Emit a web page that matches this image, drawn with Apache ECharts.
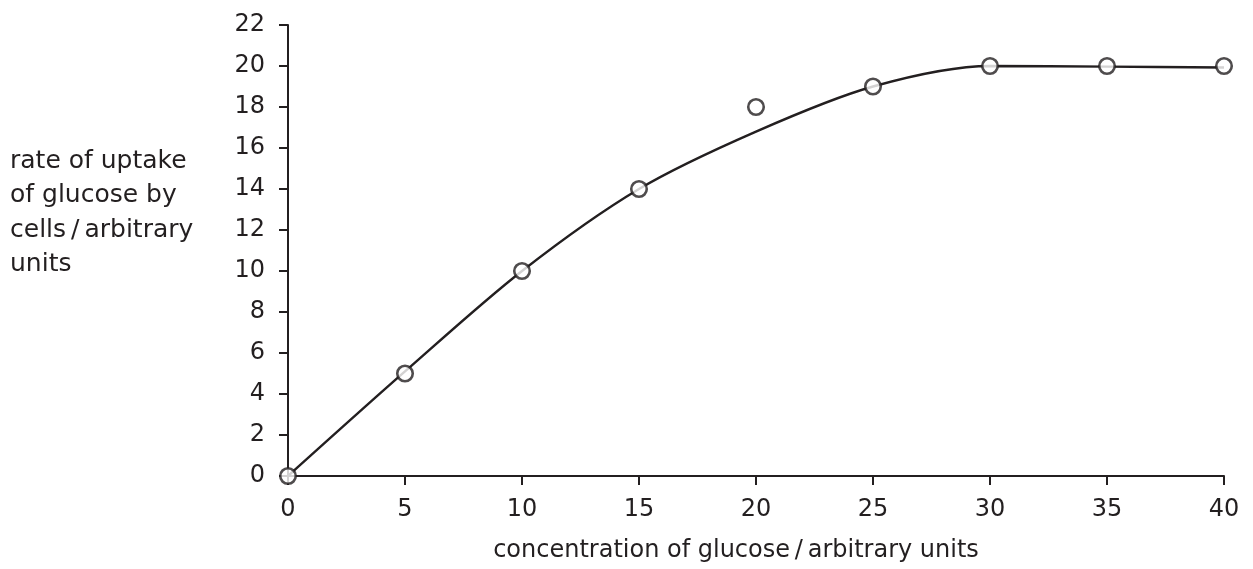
<!DOCTYPE html>
<html>
<head>
<meta charset="utf-8">
<script src="https://cdn.jsdelivr.net/npm/echarts@6/dist/echarts.min.js"></script>
<style>
html,body{margin:0;padding:0;background:#fff;}
#c{width:1253px;height:569px;}
</style>
</head>
<body>
<div id="c"></div>
<script>
const concentration = [0, 5, 10, 15, 20, 25, 30, 35, 40];
const uptake = [0, 5, 10, 14, 18, 19, 20, 20, 20];
// best-fit curve drawn through the data
const curveX = [0, 5, 10, 15, 20, 25, 30, 35, 40];
const curveY = [0, 5.1, 10, 14, 16.8, 19, 20, 19.97, 19.93];
const xTicks = [0, 5, 10, 15, 20, 25, 30, 35, 40];
const yTicks = [0, 2, 4, 6, 8, 10, 12, 14, 16, 18, 20, 22];
const xTitle = 'concentration of glucose\u2009/\u2009arbitrary units';
const yTitle = 'rate of uptake\nof glucose by\ncells\u2009/\u2009arbitrary\nunits';

const ink = '#231f20';
const font = 'DejaVu Sans, sans-serif';
const fs = 24;
const chart = echarts.init(document.getElementById('c'));
chart.setOption({
  animation: false,
  backgroundColor: '#fff',
  grid: {left: 288, right: 29, top: 25, bottom: 93},
  xAxis: {
    type: 'value', min: 0, max: 40, interval: 5,
    axisLine: {show: true, lineStyle: {color: ink, width: 2}},
    axisTick: {show: true, length: 9, lineStyle: {color: ink, width: 2}},
    axisLabel: {color: ink, fontSize: fs, fontFamily: font, margin: 22},
    splitLine: {show: false},
    name: xTitle, nameLocation: 'middle', nameGap: 63,
    nameTextStyle: {color: ink, fontSize: fs, fontFamily: font, padding: [0, 40, 0, 0]}
  },
  yAxis: {
    type: 'value', min: 0, max: 22, interval: 2,
    axisLine: {show: true, lineStyle: {color: ink, width: 2}},
    axisTick: {show: true, length: 9, lineStyle: {color: ink, width: 2}},
    axisLabel: {color: ink, fontSize: fs, fontFamily: font, margin: 23},
    splitLine: {show: false}
  },
  graphic: [{
    type: 'text', left: 10, top: 144,
    style: {text: yTitle, fill: ink, fontSize: 25, fontFamily: font, lineHeight: 34.4}
  }],
  series: [{
    type: 'line',
    data: curveX.map((x, i) => [x, curveY[i]]),
    smooth: 0.3,
    showSymbol: false,
    lineStyle: {color: ink, width: 2.4},
    z: 2
  }, {
    type: 'scatter',
    data: concentration.map((x, i) => [x, uptake[i]]),
    symbol: 'circle', symbolSize: 15.5,
    itemStyle: {color: '#fff', borderColor: ink, borderWidth: 2.6},
    z: 3
  }]
});
</script>
</body>
</html>
